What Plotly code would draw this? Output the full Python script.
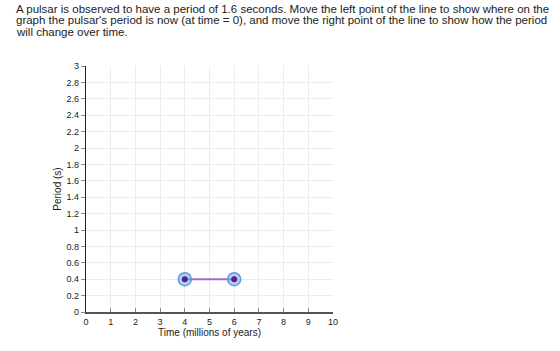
import plotly.graph_objects as go

time_vals = [4, 6]
period_vals = [0.4, 0.4]
x_ticks = list(range(0, 11))
y_ticks = [0, 0.2, 0.4, 0.6, 0.8, 1, 1.2, 1.4, 1.6, 1.8, 2, 2.2, 2.4, 2.6, 2.8, 3]
y_tick_text = ["0", "0.2", "0.4", "0.6", "0.8", "1", "1.2", "1.4", "1.6", "1.8", "2", "2.2", "2.4", "2.6", "2.8", "3"]
question_lines = [
    "A pulsar is observed to have a period of 1.6 seconds. Move the left point of the line to show where on the",
    "graph the pulsar's period is now (at time = 0), and move the right point of the line to show how the period",
    "will change over time.",
]

fig = go.Figure()
fig.add_trace(go.Scatter(
    x=time_vals, y=period_vals, mode="lines",
    line=dict(color="#9f6cc4", width=2), hoverinfo="skip", showlegend=False))
fig.add_trace(go.Scatter(
    x=time_vals, y=period_vals, mode="markers",
    marker=dict(size=13, color="rgba(120,170,235,0.55)", line=dict(color="#5b9be0", width=1.5)),
    hoverinfo="skip", showlegend=False))
fig.add_trace(go.Scatter(
    x=time_vals, y=period_vals, mode="markers",
    marker=dict(size=6, color="#5b1f8c"),
    hoverinfo="skip", showlegend=False))

font = "Liberation Sans, Arial, sans-serif"
for i, line in enumerate(question_lines):
    fig.add_annotation(text=line, xref="paper", yref="paper", x=0, y=0,
                       xanchor="left", yanchor="middle", showarrow=False,
                       font=dict(family=font, size=11.5, color="#222"))

fig.update_layout(
    width=560, height=351,
    margin=dict(l=86, r=227, t=66, b=39),
    paper_bgcolor="white", plot_bgcolor="white",
    font=dict(family=font, color="#333"),
    xaxis=dict(range=[0, 10], tickvals=x_ticks, showgrid=True, gridcolor="#ececec",
               showline=True, linecolor="#555", linewidth=1.5, ticks="inside", ticklen=4,
               tickcolor="#888", tickfont=dict(size=9, color="#222"), zeroline=False,
               title=dict(text="Time (millions of years)", font=dict(size=10, color="#222"), standoff=1),
               fixedrange=True),
    yaxis=dict(range=[0, 3], tickvals=y_ticks, ticktext=y_tick_text, showgrid=True, gridcolor="#ececec",
               showline=True, linecolor="#222", linewidth=1.2, ticks="outside", ticklen=4,
               tickcolor="#888", tickfont=dict(size=9, color="#222"), zeroline=False,
               title=dict(text="Period (s)", font=dict(size=10, color="#222"), standoff=3),
               fixedrange=True),
)

# place question lines in pixel-equivalent paper coords
ph = 351 - 66 - 39
pw = 560 - 86 - 227
ys = [9, 20.5, 31.5]
anns = list(fig.layout.annotations)
for a, ypix in zip(anns, ys):
    a.x = (14 - 86) / pw
    a.y = (351 - 39 - ypix) / ph
fig.layout.annotations = anns

fig.write_html("out.html")
